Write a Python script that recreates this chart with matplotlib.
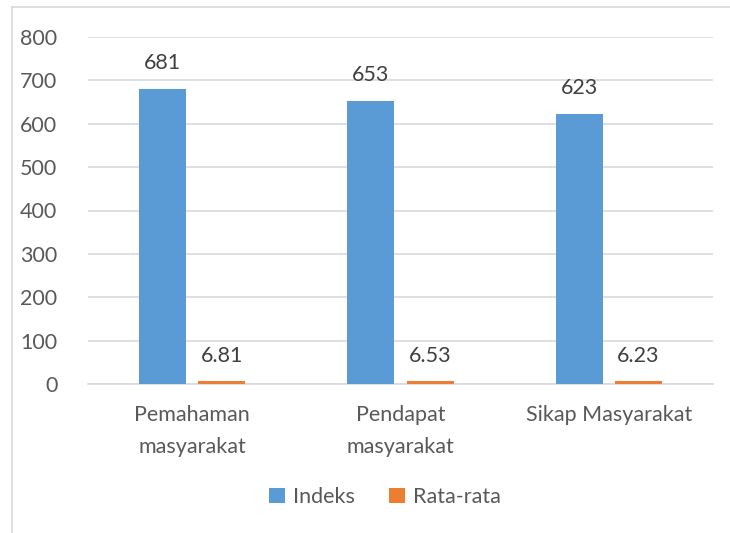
import matplotlib
matplotlib.use("Agg")
import matplotlib.pyplot as plt
import numpy as np

categories = ["Pemahaman\nmasyarakat", "Pendapat\nmasyarakat", "Sikap Masyarakat"]
indeks = [681, 653, 623]
rata_rata = [6.81, 6.53, 6.23]
indeks_labels = ["681", "653", "623"]
rata_labels = ["6.81", "6.53", "6.23"]
yticks = [0, 100, 200, 300, 400, 500, 600, 700, 800]

plt.rcParams['font.family'] = ['Lato', 'DejaVu Sans']
text_color = "#595959"
fs = 15.5

fig = plt.figure(figsize=(7.3, 5.33), dpi=100)
ax = fig.add_axes([88/730, 1-384/533, (713-88)/730, (384-37)/533])

x = np.arange(len(categories))
w = 0.226
gap = 0.058
b1 = ax.bar(x - (w+gap)/2, indeks, w, color="#5B9BD5", label="Indeks", zorder=3)
b2 = ax.bar(x + (w+gap)/2, rata_rata, w, color="#ED7D31", label="Rata-rata", zorder=3)

for rect, lab in zip(b1, indeks_labels):
    ax.annotate(lab, (rect.get_x()+rect.get_width()/2, rect.get_height()),
                xytext=(0, 11), textcoords="offset points", ha="center", va="bottom",
                fontsize=fs, color="#404040")
for rect, lab in zip(b2, rata_labels):
    ax.annotate(lab, (rect.get_x()+rect.get_width()/2, rect.get_height()),
                xytext=(0, 11), textcoords="offset points", ha="center", va="bottom",
                fontsize=fs, color="#404040")

ax.set_xlim(-0.5, 2.5)
ax.set_ylim(0, 800)
ax.set_yticks(yticks)
ax.set_yticklabels([str(v) for v in yticks])
ax.set_xticks(x)
ax.set_xticklabels(categories, linespacing=1.75)
ax.tick_params(axis='both', length=0, labelsize=fs, colors=text_color)
ax.tick_params(axis='y', pad=22)
ax.tick_params(axis='x', pad=15)
ax.grid(axis='y', color="#D9D9D9", linewidth=1.2, zorder=0)
for s in ["top", "right", "left"]:
    ax.spines[s].set_visible(False)
ax.spines["bottom"].set_color("#D9D9D9")
ax.spines["bottom"].set_linewidth(1.2)

leg = fig.legend(loc="center", bbox_to_anchor=(385/730, 1-497/533), ncol=2, frameon=False,
                 fontsize=fs, handlelength=0.75, handleheight=0.75, handletextpad=0.35,
                 columnspacing=1.6, labelcolor=text_color)

# chart border (left and top visible)
fig.add_artist(plt.Line2D([11.5/730, 11.5/730], [0, 1-7/533], transform=fig.transFigure,
                          color="#D9D9D9", linewidth=1.2))
fig.add_artist(plt.Line2D([11.5/730, 1], [1-7/533, 1-7/533], transform=fig.transFigure,
                          color="#D9D9D9", linewidth=1.2))

fig.savefig("out.png", dpi=100)
